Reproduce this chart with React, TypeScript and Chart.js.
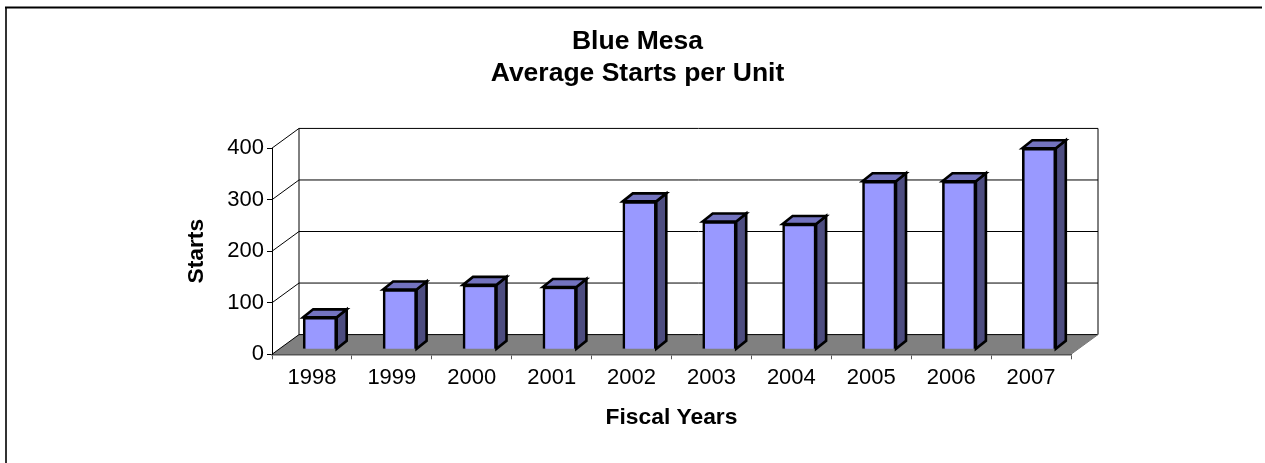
import React, { useEffect, useRef } from "react";
import { Chart, registerables } from "chart.js";

Chart.register(...registerables);

const categories = ["1998", "1999", "2000", "2001", "2002", "2003", "2004", "2005", "2006", "2007"];
const starts = [62, 116, 125, 121, 287, 248, 243, 326, 326, 390];
const yTicks = [0, 100, 200, 300, 400];
const titleLines = ["Blue Mesa", "Average Starts per Unit"];

const FONT = "'Liberation Sans', Arial, sans-serif";
const DEPTH_X = 27;
const DEPTH_Y = -19.7;
const BAR_SHIFT_X = 8;
const BAR_SHIFT_Y = -5;
const BAR_DEPTH_X = 10;
const BAR_DEPTH_Y = -8;
const BAR_LINE = 2.6;

const frame3d = {
  id: "frame3d",
  beforeDraw(chart: any) {
    const { ctx, chartArea: a, scales } = chart;
    ctx.save();
    // outer frame
    ctx.strokeStyle = "#333";
    ctx.lineWidth = 2;
    ctx.beginPath();
    ctx.moveTo(6, 463);
    ctx.lineTo(6, 7);
    ctx.stroke();
    ctx.strokeStyle = "#000";
    ctx.beginPath();
    ctx.moveTo(5, 7.5);
    ctx.lineTo(1262, 7.5);
    ctx.stroke();
    // floor
    ctx.fillStyle = "#808080";
    ctx.beginPath();
    ctx.moveTo(a.left, a.bottom);
    ctx.lineTo(a.left + DEPTH_X, a.bottom + DEPTH_Y);
    ctx.lineTo(a.right + DEPTH_X, a.bottom + DEPTH_Y);
    ctx.lineTo(a.right, a.bottom);
    ctx.closePath();
    ctx.fill();
    // grid on walls
    ctx.strokeStyle = "#000";
    ctx.lineWidth = 1;
    for (const v of yTicks) {
      const y = scales.y.getPixelForValue(v);
      ctx.beginPath();
      ctx.moveTo(a.left, y);
      ctx.lineTo(a.left + DEPTH_X, y + DEPTH_Y);
      ctx.lineTo(a.right + DEPTH_X, y + DEPTH_Y);
      ctx.stroke();
    }
    ctx.beginPath();
    ctx.moveTo(a.left + DEPTH_X, a.top + DEPTH_Y);
    ctx.lineTo(a.left + DEPTH_X, a.bottom + DEPTH_Y);
    ctx.moveTo(a.right + DEPTH_X, a.top + DEPTH_Y);
    ctx.lineTo(a.right + DEPTH_X, a.bottom + DEPTH_Y);
    ctx.stroke();
    ctx.strokeStyle = "#777";
    ctx.beginPath();
    ctx.moveTo(a.right + DEPTH_X, a.bottom + DEPTH_Y);
    ctx.lineTo(a.right, a.bottom);
    ctx.stroke();
    ctx.restore();
  },
  beforeDatasetDraw(chart: any, args: any) {
    const { ctx } = chart;
    const meta = chart.getDatasetMeta(args.index);
    ctx.save();
    ctx.translate(BAR_SHIFT_X, BAR_SHIFT_Y);
    for (const bar of meta.data) {
      const l = bar.x - bar.width / 2;
      const r = bar.x + bar.width / 2;
      const t = bar.y;
      const b = bar.base;
      ctx.lineWidth = BAR_LINE;
      ctx.strokeStyle = "#000";
      ctx.lineJoin = "miter";
      ctx.fillStyle = "#4D4D80";
      ctx.beginPath();
      ctx.moveTo(r, t);
      ctx.lineTo(r + BAR_DEPTH_X, t + BAR_DEPTH_Y);
      ctx.lineTo(r + BAR_DEPTH_X, b + BAR_DEPTH_Y);
      ctx.lineTo(r, b);
      ctx.closePath();
      ctx.fill();
      ctx.stroke();
      ctx.fillStyle = "#7373BF";
      ctx.beginPath();
      ctx.moveTo(l, t);
      ctx.lineTo(l + BAR_DEPTH_X, t + BAR_DEPTH_Y);
      ctx.lineTo(r + BAR_DEPTH_X, t + BAR_DEPTH_Y);
      ctx.lineTo(r, t);
      ctx.closePath();
      ctx.fill();
      ctx.stroke();
    }
  },
  afterDatasetDraw(chart: any) {
    chart.ctx.restore();
  },
};

export default function App() {
  const ref = useRef<HTMLCanvasElement>(null);
  useEffect(() => {
    document.body.style.margin = "0";
    const chart = new Chart(ref.current!, {
      type: "bar",
      data: {
        labels: categories,
        datasets: [
          {
            data: starts,
            backgroundColor: "#9999FF",
            borderColor: "#000",
            borderWidth: BAR_LINE,
            barThickness: 33.5,
            clip: false as any,
          },
        ],
      },
      options: {
        responsive: false,
        animation: false,
        layout: { padding: { left: 15, right: 5, top: 0, bottom: 0 } },
        plugins: {
          legend: { display: false },
          tooltip: { enabled: false },
          title: {
            display: true,
            text: titleLines,
            color: "#000",
            font: { family: FONT, size: 26.5, weight: "bold", lineHeight: 1.21 },
            padding: { top: 26, bottom: 58 },
          },
        },
        scales: {
          x: {
            border: { display: true, color: "#555", width: 1.5 },
            grid: { drawOnChartArea: false, drawTicks: true, tickLength: 5, color: "#555", offset: true },
            ticks: { color: "#000", font: { family: FONT, size: 22 }, padding: 5, maxRotation: 0 },
            title: {
              display: true,
              text: "Fiscal Years",
              color: "#000",
              font: { family: FONT, size: 22.8, weight: "bold" },
              padding: { top: 0, bottom: 31.5 },
            },
            afterFit(scale: any) {
              scale.height = 108.7;
            },
          },
          y: {
            min: 0,
            max: 400,
            afterBuildTicks(scale: any) {
              scale.ticks = yTicks.map((value) => ({ value }));
            },
            border: { display: true, color: "#000", width: 1 },
            grid: { drawOnChartArea: false, drawTicks: true, tickLength: 5, color: "#000" },
            ticks: { color: "#000", font: { family: FONT, size: 22 }, padding: 3 },
            title: {
              display: true,
              text: "Starts",
              color: "#000",
              font: { family: FONT, size: 22.8, weight: "bold" },
              padding: { top: 168, bottom: 0 },
            },
            afterFit(scale: any) {
              scale.width = 257;
            },
          },
          y2: {
            position: "right",
            display: true,
            border: { display: false },
            grid: { display: false },
            ticks: { display: false },
            afterFit(scale: any) {
              scale.width = 189;
            },
          },
        },
      } as any,
      plugins: [frame3d],
    });
    return () => chart.destroy();
  }, []);
  return (
    <canvas
      ref={ref}
      width={1265}
      height={463}
      style={{ display: "block", position: "absolute", left: 0, top: 0 }}
    />
  );
}
